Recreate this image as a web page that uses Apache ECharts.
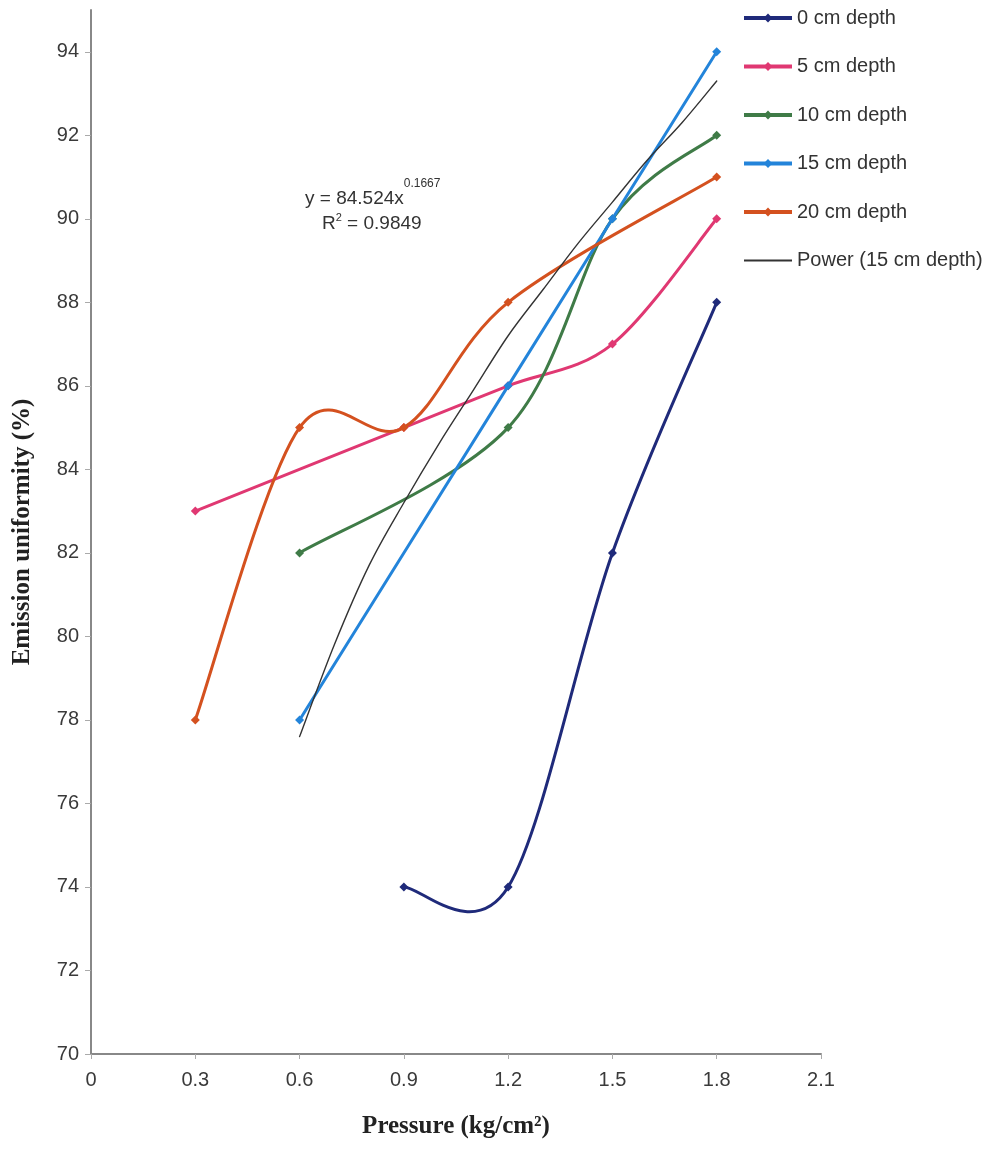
<!DOCTYPE html>
<html><head><meta charset="utf-8">
<script src="https://cdn.jsdelivr.net/npm/echarts@6/dist/echarts.min.js"></script>
<style>html,body{margin:0;padding:0;background:#fff}#c{width:1004px;height:1155px}</style>
</head><body><div id="c"></div>
<script>
// Data
const depth0  = [[0.9,74],[1.2,74],[1.5,82],[1.8,88]];
const depth5  = [[0.3,83],[0.9,85],[1.2,86],[1.5,87],[1.8,90]];
const depth10 = [[0.6,82],[1.2,85],[1.5,90],[1.8,92]];
const depth15 = [[0.6,78],[1.2,86],[1.5,90],[1.8,94]];
const depth20 = [[0.3,78],[0.6,85],[0.9,85],[1.2,88],[1.8,91]];
const powerTrend = [[0.6,77.6],[0.7,79.8],[0.8,81.7],[0.9,83.2],[1.0,84.6],[1.1,85.9],[1.2,87.2],[1.3,88.3],[1.4,89.4],[1.5,90.4],[1.6,91.4],[1.7,92.3],[1.8,93.3]];
const seriesNames = ['0 cm depth','5 cm depth','10 cm depth','15 cm depth','20 cm depth','Power (15 cm depth)'];
const yTicks = [70,72,74,76,78,80,82,84,86,88,90,92,94];
const xTicks = [0,0.3,0.6,0.9,1.2,1.5,1.8,2.1];

const colors = ['#1f2a7a','#e03872','#3f7b47','#2384da','#d4511f','#333333'];
const allData = [depth0, depth5, depth10, depth15, depth20, powerTrend];
const widths = [3,3,3,3,3,1.4];
const sans = '"Liberation Sans", Arial, sans-serif';
const serif = '"Liberation Serif","Times New Roman",serif';

// Excel-like smoothed line (Catmull-Rom Bezier in pixel space) drawn through the axes' scales
function smoothPath(api, pts){
  const p = pts.map(d => api.coord(d));
  let s = 'M' + p[0][0] + ' ' + p[0][1];
  for (let i = 0; i < p.length - 1; i++){
    const p0 = p[i-1] || p[i], p1 = p[i], p2 = p[i+1], p3 = p[i+2] || p[i+1];
    const c1 = [p1[0] + (p2[0]-p0[0])/6, p1[1] + (p2[1]-p0[1])/6];
    const c2 = [p2[0] - (p3[0]-p1[0])/6, p2[1] - (p3[1]-p1[1])/6];
    s += ' C' + c1[0] + ' ' + c1[1] + ' ' + c2[0] + ' ' + c2[1] + ' ' + p2[0] + ' ' + p2[1];
  }
  return s;
}

const series = [];
allData.forEach((d, i) => {
  series.push({
    type:'custom', name:'curve'+i, data:[d[0]], z:2+i*2, silent:true, clip:false,
    renderItem:(params, api) => ({
      type:'path', shape:{pathData:smoothPath(api, d)},
      style:{stroke:colors[i], lineWidth:widths[i], fill:null, lineJoin:'round', lineCap:'round'}
    })
  });
  series.push({
    name:seriesNames[i], type:'line', data:d, z:3+i*2,
    symbol: i === 5 ? 'none' : 'diamond', symbolSize:9,
    lineStyle:{opacity:0, width:0}, itemStyle:{color:colors[i]}, emphasis:{disabled:true}
  });
});

const chart = echarts.init(document.getElementById('c'));
const lbl = {fontFamily:sans, fontSize:20, color:'#3a3a3a'};
chart.setOption({
  animation:false,
  backgroundColor:'#ffffff',
  grid:{left:91, right:183, top:10, bottom:101, containLabel:false, outerBoundsMode:'none'},
  legend:{
    orient:'vertical', left:742, top:8, padding:0, itemGap:28.5, itemWidth:48, itemHeight:11,
    textStyle:{fontFamily:sans, fontSize:20, color:'#333'},
    data:seriesNames.map((n, i) => ({
      name:n,
      lineStyle:{color:colors[i], width: i === 5 ? 2 : 4, opacity:1},
      itemStyle:{color:colors[i], opacity: i === 5 ? 0 : 1}
    }))
  },
  xAxis:{
    type:'value', min:0, max:2.1, interval:0.3,
    name:'Pressure (kg/cm²)', nameLocation:'middle', nameGap:60,
    nameTextStyle:{fontFamily:serif, fontWeight:'bold', fontSize:25, color:'#222'},
    axisLine:{lineStyle:{color:'#888', width:2}},
    axisTick:{show:true, length:5, lineStyle:{color:'#aaa'}, customValues:xTicks},
    axisLabel:Object.assign({margin:16, customValues:xTicks, formatter:v => v === 0 ? '0' : v.toFixed(1)}, lbl),
    splitLine:{show:false}
  },
  yAxis:{
    type:'value', min:70, max:95, interval:2,
    name:'Emission uniformity (%)', nameLocation:'middle', nameGap:56, nameRotate:90,
    nameTextStyle:{fontFamily:serif, fontWeight:'bold', fontSize:25, color:'#222'},
    axisLine:{show:true, lineStyle:{color:'#888', width:2}},
    axisTick:{show:true, length:6, lineStyle:{color:'#aaa'}, customValues:yTicks},
    axisLabel:Object.assign({margin:12, customValues:yTicks}, lbl),
    splitLine:{show:false}
  },
  series:series,
  graphic:[
    {type:'text', left:305, top:178, z:100, style:{
      text:'{b|y = 84.524x}{s|0.1667}',
      rich:{b:{fontFamily:sans, fontSize:19, fill:'#333', verticalAlign:'bottom', lineHeight:30},
            s:{fontFamily:sans, fontSize:12, fill:'#333', verticalAlign:'top', lineHeight:30, padding:[0,0,14,0]}}
    }},
    {type:'text', left:322, top:212, z:100, style:{
      text:'{b|R}{s|2}{b| = 0.9849}',
      rich:{b:{fontFamily:sans, fontSize:19, fill:'#333', lineHeight:26},
            s:{fontFamily:sans, fontSize:11, fill:'#333', padding:[0,0,12,0], lineHeight:26}}
    }}
  ]
});
</script></body></html>
